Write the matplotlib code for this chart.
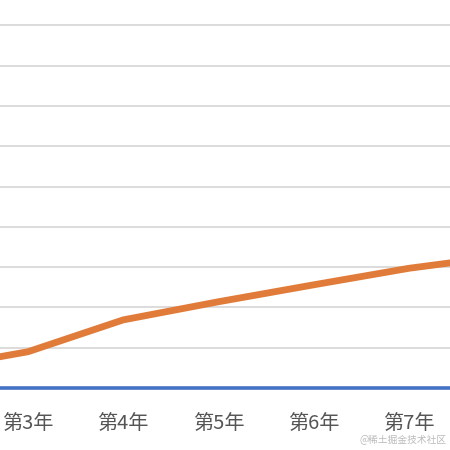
import matplotlib
matplotlib.use("Agg")
import matplotlib.pyplot as plt

plt.rcParams['font.family'] = ['Noto Sans CJK SC', 'DejaVu Sans']

years = ['第2年', '第3年', '第4年', '第5年', '第6年', '第7年', '第8年']
orange_values = [0.48, 0.90, 1.69, 2.14, 2.56, 2.97, 3.28]
blue_values = [0, 0, 0, 0, 0, 0, 0]
y_gridlines = [1, 2, 3, 4, 5, 6, 7, 8, 9]

W, H = 450, 450
fig = plt.figure(figsize=(W / 100, H / 100), dpi=100)
ax_bottom_px = 388
ax = fig.add_axes([0, (H - ax_bottom_px) / H, 1, ax_bottom_px / H])

x = list(range(len(years)))

for g in y_gridlines:
    ax.axhline(g, color='#D9D9D9', lw=1.3, zorder=1)

ax.plot(x, blue_values, color='#4472C4', lw=2.6, solid_capstyle='butt', clip_on=False, zorder=3)
ax.plot(x, orange_values, color='#E07B39', lw=4.9, solid_joinstyle='round', zorder=4)

for s in ax.spines.values():
    s.set_visible(False)
ax.set_yticks([])
ax.set_xticks(x)
ax.set_xticklabels(years, fontsize=14.5, color='#555555')
ax.tick_params(axis='x', length=0, pad=19)

px_per_cat = 95.2
i3 = years.index('第3年')
ax.set_xlim(i3 - 28 / px_per_cat, i3 + (W - 28) / px_per_cat)
ax.set_ylim(0, ax_bottom_px / 40.3)

fig.text(447 / W, 1 - 440 / H, '@稀土掘金技术社区', ha='right', va='center',
         fontsize=7, color='#BBBBBB')

fig.savefig('out.png', dpi=100)
